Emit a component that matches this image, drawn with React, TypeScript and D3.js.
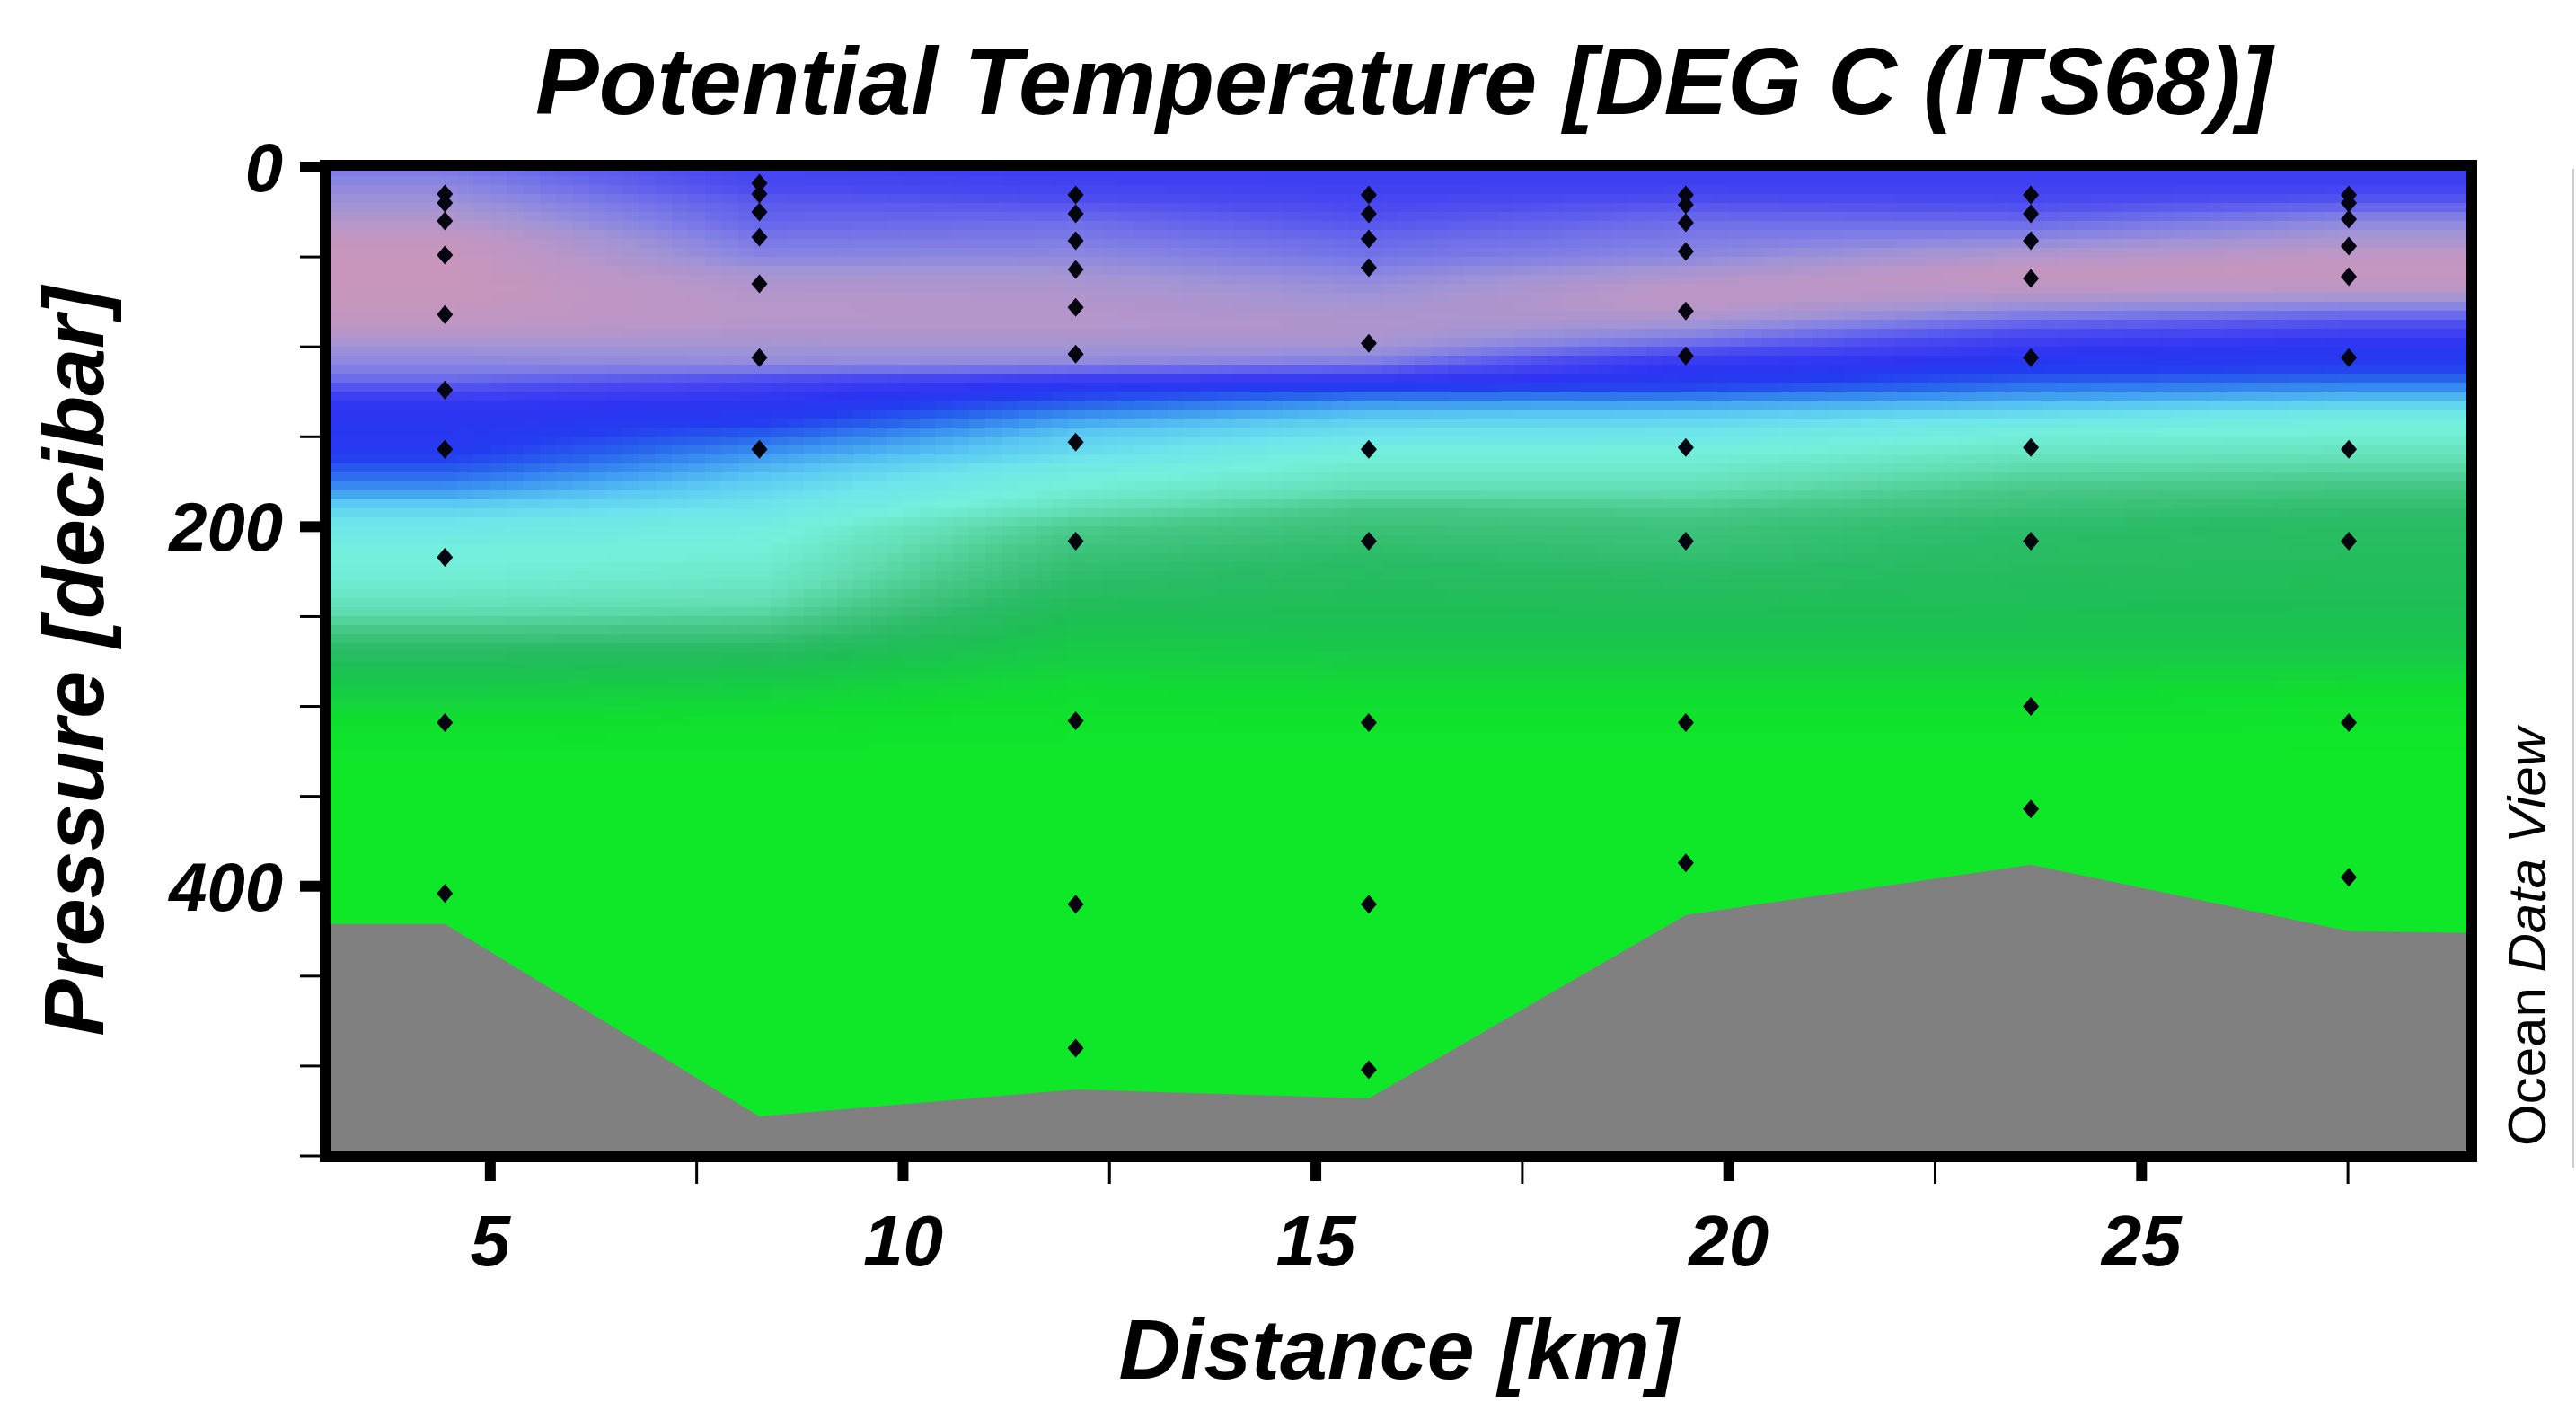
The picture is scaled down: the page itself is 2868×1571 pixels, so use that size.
import React, { useMemo } from 'react';
import * as d3 from 'd3';

// ---- Section geometry -------------------------------------------------------
const distanceDomain = [3, 29]; // km
const pressureDomain = [0, 550]; // dbar

// Station positions along the section (km)
const stationKm = [4.45, 8.26, 12.09, 15.64, 19.48, 23.66, 27.51];

// Bottom (bathymetry) pressure along the section
const bottomKm = [3, 4.45, 8.26, 12.09, 15.64, 19.48, 23.66, 27.51, 29];
const bottomDbar = [421, 421, 528, 513, 518, 416, 388, 425, 426];

// Bottle / sample pressures at each station (dbar)
const samplesS1 = [15, 20, 30, 49, 82, 124, 157, 217, 309, 404];
const samplesS2 = [9, 15, 25, 39, 65, 106, 157];
const samplesS3 = [15.5, 26, 41, 57, 78, 104, 153, 208, 308, 410, 490];
const samplesS4 = [15.5, 26, 40, 56, 98, 157, 208, 309, 410, 502];
const samplesS5 = [15.5, 21, 31, 47, 80, 105, 156, 208, 309, 387];
const samplesS6 = [15.5, 26, 41, 62, 106, 156, 208, 300, 357];
const samplesS7 = [15.5, 20, 29, 44, 61, 106, 157, 208, 309, 395];
const stationSamples = [samplesS1, samplesS2, samplesS3, samplesS4, samplesS5, samplesS6, samplesS7];

// ---- Potential temperature profiles (deg C) on common pressure levels -------
const profileDbar = [0, 10, 20, 30, 40, 50, 60, 70, 80, 90, 100, 110, 120, 130, 140, 150, 160, 170, 180, 190, 200, 215, 230, 245, 260, 275, 290, 310, 340, 550];

const thetaS1 = [-1.12, -1.2, -1.3, -1.42, -1.55, -1.6, -1.6, -1.6, -1.56, -1.48, -1.3, -1.18, -1.0, -0.62, -0.52, -0.48, -0.42, -0.26, -0.1, 0.1, 0.22, 0.33, 0.38, 0.48, 0.68, 0.92, 1.08, 1.28, 1.4, 1.4];
const thetaS2 = [-0.78, -0.82, -0.95, -1.0, -1.1, -1.18, -1.35, -1.42, -1.45, -1.42, -1.32, -1.22, -0.78, -0.55, -0.45, -0.25, -0.1, 0.02, 0.12, 0.2, 0.3, 0.36, 0.42, 0.52, 0.7, 0.95, 1.12, 1.3, 1.4, 1.4];
const thetaS3 = [-0.68, -0.75, -0.9, -1.05, -1.12, -1.22, -1.32, -1.4, -1.42, -1.42, -1.32, -1.2, -0.55, -0.3, -0.08, 0.08, 0.15, 0.3, 0.37, 0.48, 0.62, 0.72, 0.8, 0.92, 1.02, 1.12, 1.24, 1.33, 1.4, 1.4];
const thetaS4 = [-0.68, -0.72, -0.82, -0.9, -1.02, -1.08, -1.2, -1.28, -1.36, -1.4, -1.32, -1.1, -0.5, -0.12, 0.08, 0.2, 0.35, 0.42, 0.5, 0.65, 0.72, 0.8, 0.88, 0.94, 1.0, 1.1, 1.22, 1.33, 1.4, 1.4];
const thetaS5 = [-0.68, -0.72, -0.9, -1.05, -1.12, -1.2, -1.38, -1.5, -1.45, -1.25, -1.0, -0.55, -0.45, -0.1, 0.1, 0.22, 0.35, 0.42, 0.5, 0.62, 0.7, 0.75, 0.85, 0.93, 1.0, 1.1, 1.22, 1.33, 1.4, 1.4];
const thetaS6 = [-0.68, -0.72, -0.85, -1.02, -1.2, -1.42, -1.58, -1.45, -1.2, -0.92, -0.62, -0.45, -0.25, -0.02, 0.2, 0.36, 0.45, 0.55, 0.65, 0.72, 0.8, 0.84, 0.9, 0.95, 1.0, 1.1, 1.22, 1.33, 1.4, 1.4];
const thetaS7 = [-0.68, -0.72, -0.95, -1.2, -1.35, -1.52, -1.58, -1.42, -1.1, -0.8, -0.5, -0.42, -0.2, 0.05, 0.3, 0.38, 0.47, 0.58, 0.68, 0.78, 0.84, 0.88, 0.92, 0.96, 1.0, 1.1, 1.25, 1.35, 1.4, 1.4];
const thetaProfiles = [thetaS1, thetaS2, thetaS3, thetaS4, thetaS5, thetaS6, thetaS7];

// ---- Colour palette (temperature stops -> colour) ---------------------------
const paletteT = [-1.6, -1.45, -1.3, -1.15, -1.0, -0.85, -0.7, -0.55, -0.4, -0.25, -0.1, 0.05, 0.2, 0.35, 0.5, 0.65, 0.8, 0.95, 1.1, 1.25, 1.4];
const paletteColors = ['#c896bc', '#b996c8', '#a094d6', '#8280e4', '#6464ec', '#4b4bf0', '#3e3ef2', '#2d34f2', '#243cf0', '#2864ec', '#3c96f0', '#5ac8f2', '#6ee6eb', '#73f0da', '#64deb4', '#46c887', '#2dbc69', '#1ebe55', '#16cd44', '#10de30', '#0fe828'];

// ---- Axis ticks --------------------------------------------------------------
const xMajorTicks = [5, 10, 15, 20, 25];
const xMinorTicks = [7.5, 12.5, 17.5, 22.5, 27.5];
const yMajorTicks = [0, 200, 400];
const yMinorTicks = [50, 100, 150, 250, 300, 350, 450, 500, 550];

const titleText = 'Potential Temperature [DEG C (ITS68)]';
const xTitle = 'Distance [km]';
const yTitle = 'Pressure [decibar]';

const FONT = '"Liberation Sans", Arial, Helvetica, sans-serif';
const W = 2868;
const H = 1571;
const GRID_DX = 0.2; // km
const GRID_DP = 5; // dbar

// Sample marker: a diamond slightly taller than wide
function diamondAt(cx: number, cy: number, hw: number, hh: number): string {
  const p = d3.path();
  p.moveTo(cx, cy - hh);
  p.lineTo(cx + hw, cy);
  p.lineTo(cx, cy + hh);
  p.lineTo(cx - hw, cy);
  p.closePath();
  return p.toString();
}

export default function App() {
  const x = d3.scaleLinear().domain(distanceDomain).range([362, 2752]);
  const y = d3.scaleLinear().domain(pressureDomain).range([186, 1287]);
  const color = d3
    .scaleLinear<string>()
    .domain(paletteT)
    .range(paletteColors)
    .interpolate(d3.interpolateRgb)
    .clamp(true);

  const cells = useMemo(() => {
    const profiles = thetaProfiles.map((t) =>
      d3.scaleLinear().domain(profileDbar).range(t).clamp(true)
    );
    const nx = Math.round((distanceDomain[1] - distanceDomain[0]) / GRID_DX);
    const ny = Math.round((pressureDomain[1] - pressureDomain[0]) / GRID_DP);
    const out: { k0: number; k1: number; p0: number; p1: number; fill: string }[] = [];
    for (let j = 0; j < ny; j++) {
      const p0 = j * GRID_DP;
      const pc = p0 + GRID_DP / 2;
      const atDepth = profiles.map((s) => s(pc));
      const across = d3.scaleLinear().domain(stationKm).range(atDepth).clamp(true);
      for (let i = 0; i < nx; i++) {
        const k0 = distanceDomain[0] + i * GRID_DX;
        const kc = k0 + GRID_DX / 2;
        out.push({ k0, k1: k0 + GRID_DX, p0, p1: p0 + GRID_DP, fill: color(across(kc)) });
      }
    }
    return out;
  }, []);

  const bottomArea = d3
    .area<number>()
    .x((_, i) => x(bottomKm[i]))
    .y0(y(pressureDomain[1]) + 10)
    .y1((d) => y(d));

  const frameX0 = x(distanceDomain[0]);
  const frameX1 = x(distanceDomain[1]);
  const frameY0 = 184;
  const frameY1 = 1288;

  return (
    <svg
      width={W}
      height={H}
      viewBox={`0 0 ${W} ${H}`}
      style={{ position: 'absolute', left: 0, top: 0, background: '#fff' }}
    >
      <defs>
        <clipPath id="plot-area">
          <rect x={frameX0} y={frameY0} width={frameX1 - frameX0} height={frameY1 - frameY0} />
        </clipPath>
      </defs>
      <rect x={0} y={0} width={W} height={H} fill="#fff" />

      {/* Gridded temperature field */}
      <g clipPath="url(#plot-area)" shapeRendering="crispEdges">
        {cells.map((c, idx) => (
          <rect
            key={idx}
            x={x(c.k0)}
            y={y(c.p0)}
            width={x(c.k1) - x(c.k0) + 0.7}
            height={y(c.p1) - y(c.p0) + 0.7}
            fill={c.fill}
          />
        ))}
      </g>

      {/* Sea floor */}
      <g clipPath="url(#plot-area)">
        <path d={bottomArea(bottomDbar) || ''} fill="#808080" />
      </g>

      {/* Sample positions */}
      <g fill="#05050f">
        {stationSamples.map((list, si) =>
          list.map((p, k) => (
            <path key={`${si}-${k}`} d={diamondAt(x(stationKm[si]), y(p), 9, 10.5)} />
          ))
        )}
      </g>

      {/* Frame */}
      <rect
        x={frameX0}
        y={frameY0}
        width={frameX1 - frameX0}
        height={frameY1 - frameY0}
        fill="none"
        stroke="#000"
        strokeWidth={12}
      />

      {/* X axis ticks and labels */}
      {xMajorTicks.map((t) => (
        <rect key={`xM${t}`} x={x(t) - 6} y={frameY1} width={12} height={27} fill="#000" />
      ))}
      {xMinorTicks.map((t) => (
        <line key={`xm${t}`} x1={x(t)} x2={x(t)} y1={frameY1} y2={frameY1 + 30} stroke="#000" strokeWidth={3} />
      ))}
      {xMajorTicks.map((t) => (
        <text
          key={`xl${t}`}
          x={x(t)}
          y={1409}
          textAnchor="middle"
          fontFamily={FONT}
          fontWeight="bold"
          fontStyle="italic"
          fontSize={80}
          fill="#000"
        >
          {t}
        </text>
      ))}

      {/* Y axis ticks and labels */}
      {yMajorTicks.map((t) => (
        <rect key={`yM${t}`} x={334} y={y(t) - 6} width={frameX0 - 334} height={12} fill="#000" />
      ))}
      {yMinorTicks.map((t) => (
        <line key={`ym${t}`} x1={334} x2={frameX0} y1={y(t)} y2={y(t)} stroke="#000" strokeWidth={3} />
      ))}
      {yMajorTicks.map((t) => (
        <text
          key={`yl${t}`}
          x={315}
          y={y(t) + 27}
          textAnchor="end"
          fontFamily={FONT}
          fontWeight="bold"
          fontStyle="italic"
          fontSize={76}
          fill="#000"
        >
          {t}
        </text>
      ))}

      {/* Titles */}
      <text
        x={1563}
        y={127}
        textAnchor="middle"
        fontFamily={FONT}
        fontWeight="bold"
        fontStyle="italic"
        fontSize={106}
        fill="#000"
      >
        {titleText}
      </text>
      <text
        x={(frameX0 + frameX1) / 2}
        y={1535}
        textAnchor="middle"
        fontFamily={FONT}
        fontWeight="bold"
        fontStyle="italic"
        fontSize={95}
        fill="#000"
      >
        {xTitle}
      </text>
      <text
        transform={`translate(115,${(y(0) + y(550)) / 2}) rotate(-90)`}
        textAnchor="middle"
        fontFamily={FONT}
        fontWeight="bold"
        fontStyle="italic"
        fontSize={95}
        fill="#000"
      >
        {yTitle}
      </text>

      {/* Software credit */}
      <text
        transform="translate(2834,1276) rotate(-90)"
        textAnchor="start"
        fontFamily={FONT}
        fontSize={60}
        fill="#000"
      >
        <tspan>Ocean </tspan>
        <tspan fontStyle="italic">Data View</tspan>
      </text>

      {/* Edge of the adjacent panel */}
      <line x1={2865} x2={2865} y1={188} y2={1300} stroke="#cfcfcf" strokeWidth={2} />
    </svg>
  );
}
